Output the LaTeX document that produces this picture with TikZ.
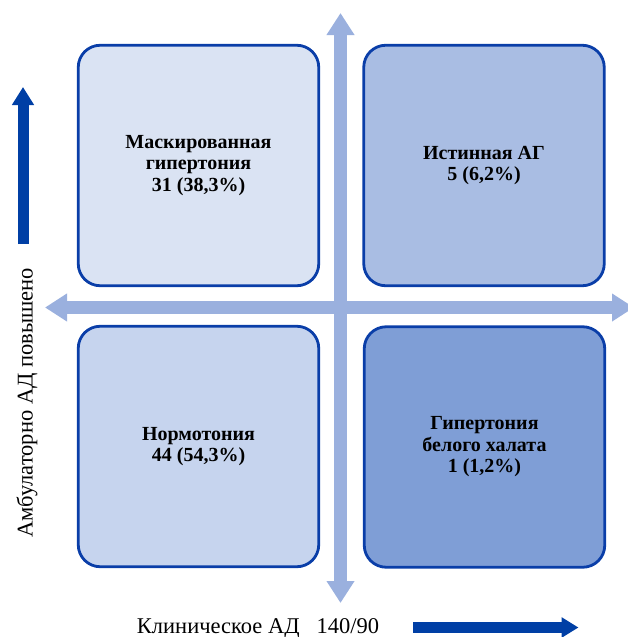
\documentclass[tikz,border=0pt]{standalone}
\usepackage{fontspec}
\setmainfont{Liberation Serif}
\usetikzlibrary{arrows.meta}
\definecolor{boxline}{HTML}{0A3EA8}
\definecolor{filltl}{HTML}{DAE3F3}
\definecolor{filltr}{HTML}{A9BDE3}
\definecolor{fillbl}{HTML}{C6D4EE}
\definecolor{fillbr}{HTML}{7F9ED6}
\definecolor{crossblue}{HTML}{9AB0DE}
\definecolor{darkarrow}{HTML}{003FA5}
\tikzset{
  quadbox/.style={draw=boxline, line width=2.8pt, rounded corners=22pt,
    minimum width=240.5pt, minimum height=240.5pt, align=center,
    font=\fontsize{20}{21.5}\selectfont\bfseries, inner sep=0pt},
  crossarrow/.style={draw=crossblue, line width=13pt,
    {Triangle[width=26.5pt,length=22pt]}-{Triangle[width=26.5pt,length=22pt]}},
  axislabel/.style={font=\fontsize{22.5}{24}\selectfont, inner sep=0pt},
}
\begin{document}
\begin{tikzpicture}[x=1pt,y=-1pt]
\useasboundingbox (0,0) rectangle (628,637);
% cross arrows
\coordinate (hl) at (45,307.5);
\coordinate (hr) at (634,307.5);
\coordinate (vt) at (340.5,13);
\coordinate (vb) at (340.5,603);
\draw[crossarrow] (hl) -- (hr);
\draw[crossarrow] (vt) -- (vb);
% quadrant boxes
\node[quadbox, fill=filltl] (tl) at (198.5,165.5) {Маскированная\\гипертония\\31 (38,3\%)};
\node[quadbox, fill=filltr] (tr) at (484,165.5) {Истинная АГ\\5 (6,2\%)};
\node[quadbox, fill=fillbl] (bl) at (198.5,446.5) {Нормотония\\44 (54,3\%)};
\node[quadbox, fill=fillbr] (br) at (484.5,447) {Гипертония\\белого халата\\1 (1,2\%)};
% axis arrows
\coordinate (la) at (23,244);
\coordinate (lb) at (23,87);
\draw[darkarrow, line width=11pt, -{Triangle[width=21pt,length=18pt]}] (la) -- (lb);
\coordinate (ba) at (413,627.5);
\coordinate (bb) at (578.5,627.5);
\draw[darkarrow, line width=10.5pt, -{Triangle[width=19.5pt,length=17pt]}] (ba) -- (bb);
% axis labels
\node[axislabel, anchor=base] (xl) at (258,633) {Клиническое АД\ \ \ 140/90};
\node[axislabel, rotate=90] (yl) at (27,403) {Амбулаторно АД повышено};
\end{tikzpicture}
\end{document}
